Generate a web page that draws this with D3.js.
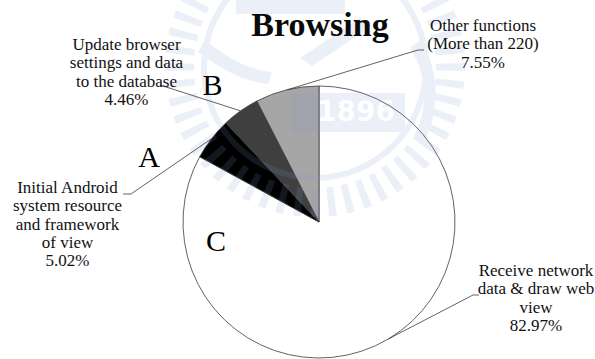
<!DOCTYPE html>
<html>
<head>
<meta charset="utf-8">
<script src="https://cdn.jsdelivr.net/npm/d3@7/dist/d3.min.js"></script>
<style>
  html, body { margin: 0; padding: 0; background: #fff; }
  svg { display: block; }
</style>
</head>
<body>
<svg id="chart" width="595" height="359"></svg>
<script>
// ---- data ----
const title = "Browsing";
const categories = [
  ["Receive network", "data & draw web", "view"],
  ["Initial Android", "system resource", "and framework", "of view"],
  ["Update browser", "settings and data", "to the database"],
  ["Other functions", "(More than 220)"]
];
const shares = [82.97, 5.02, 4.46, 7.55];
const tags = ["C", "A", "B", ""];
const sealYear = "1896";

// ---- layout ----
const W = 595, H = 359;
const cx = 319, cy = 222, R = 136;
const fills = ["#ffffff", "#000000", "#3f3f3f", "#a6a6a6"];
const serif = "'Liberation Serif', 'DejaVu Serif', serif";

// label anchors: text centre x, first baseline, leader start points
const labelPlace = [
  { x: 536, y: 276, lead: [[479, 295], [473, 295]] },
  { x: 67.5, y: 193, lead: [[123, 194], [131, 194]] },
  { x: 126.5, y: 50, lead: [[160, 85]] },
  { x: 483, y: 31, lead: [[424, 50], [418, 50]] }
];
const tagPlace = [
  { x: 216, y: 251 },
  { x: 149, y: 167 },
  { x: 212.5, y: 95 },
  null
];

const svg = d3.select("#chart");
const rows = shares.map((v, i) => ({ lines: categories[i], value: v, tag: tags[i], i }));

// ---- pie ----
const pie = d3.pie().sort(null).value(d => d.value);
const arcs = pie(rows);
const arc = d3.arc().innerRadius(0).outerRadius(R);
const rim = d3.arc().innerRadius(R).outerRadius(R);

const gPie = svg.append("g").attr("transform", `translate(${cx},${cy})`);
gPie.selectAll("path.slice")
  .data(arcs)
  .join("path")
  .attr("class", "slice")
  .attr("d", arc)
  .attr("fill", d => fills[d.data.i])
  .attr("stroke", "#3a3a3a")
  .attr("stroke-width", 0.8)
  .attr("stroke-linejoin", "round");

// ---- faint seal watermark ----
const wm = svg.append("g").attr("opacity", 0.15).attr("fill", "#7f97cc");
const sx = 315, sy = 67;
const nTicks = 52;
const tickArc = d3.arc().innerRadius(121).outerRadius(150);
const tickW = 3 * Math.PI / 180;
const ticks = d3.range(nTicks).map(k => {
  const a = k * 2 * Math.PI / nTicks;
  return { startAngle: a - tickW / 2, endAngle: a + tickW / 2 };
});
wm.append("g").attr("transform", `translate(${sx},${sy})`)
  .selectAll("path").data(ticks).join("path").attr("d", tickArc);
wm.append("path")
  .attr("transform", `translate(${sx},${sy})`)
  .attr("d", d3.arc().innerRadius(108).outerRadius(114).startAngle(0).endAngle(2 * Math.PI)());
// inner emblem bands
wm.append("path").attr("d", "M236,0 L345,0 L345,14 L236,14 Z");
wm.append("path").attr("d", "M300,58 L360,18 L372,26 L312,66 Z");
wm.append("path").attr("d", "M205,40 C230,60 250,70 272,72 L268,84 C245,82 222,70 198,52 Z");
wm.append("path").attr("d", "M420,40 C440,70 440,110 425,140 L415,134 C428,108 428,76 410,48 Z");
// year plaque with knocked-out numerals
const defs = svg.append("defs");
const mask = defs.append("mask").attr("id", "plaqueMask");
mask.append("rect").attr("x", 0).attr("y", 0).attr("width", W).attr("height", H).attr("fill", "#fff");
mask.append("text")
  .attr("x", 317).attr("y", 121)
  .attr("font-family", "'DejaVu Sans', sans-serif")
  .attr("font-weight", "bold")
  .attr("font-size", 28)
  .attr("fill", "#000")
  .text(sealYear);
wm.append("rect")
  .attr("x", 292).attr("y", 93).attr("width", 113).attr("height", 39)
  .attr("mask", "url(#plaqueMask)");

// ---- leader lines ----
const gLead = svg.append("g")
  .attr("fill", "none")
  .attr("stroke", "#3a3a3a")
  .attr("stroke-width", 0.8);
arcs.forEach(d => {
  const [px, py] = rim.centroid(d);
  const pts = labelPlace[d.data.i].lead.concat([[cx + px, cy + py]]);
  gLead.append("path").attr("d", d3.line()(pts));
});

// ---- labels ----
const fmt = d3.format(".2f");
const gLab = svg.append("g")
  .attr("font-family", serif)
  .attr("font-size", 17)
  .attr("fill", "#111")
  .attr("text-anchor", "middle");
rows.forEach(r => {
  const p = labelPlace[r.i];
  const t = gLab.append("text").attr("x", p.x).attr("y", p.y);
  r.lines.concat([fmt(r.value) + "%"]).forEach((s, k) => {
    t.append("tspan").attr("x", p.x).attr("y", p.y + k * 18.3).text(s);
  });
});

// slice letters
svg.append("g")
  .attr("font-family", serif)
  .attr("font-size", 30)
  .attr("fill", "#000")
  .attr("text-anchor", "middle")
  .selectAll("text")
  .data(rows.filter(r => r.tag))
  .join("text")
  .attr("x", r => tagPlace[r.i].x)
  .attr("y", r => tagPlace[r.i].y)
  .text(r => r.tag);

// title
svg.append("text")
  .attr("x", 320).attr("y", 36)
  .attr("text-anchor", "middle")
  .attr("font-family", serif)
  .attr("font-weight", "bold")
  .attr("font-size", 34)
  .attr("fill", "#0a0a0a")
  .text(title);
</script>
</body>
</html>
